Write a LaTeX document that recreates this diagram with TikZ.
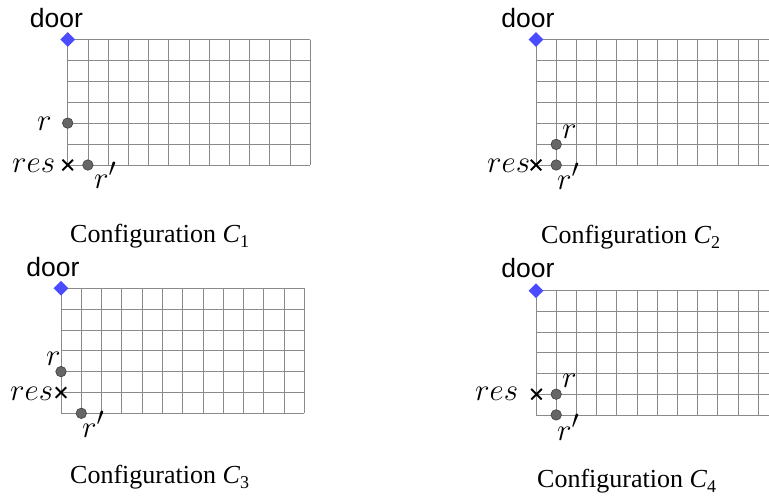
\documentclass[tikz,border=0pt]{standalone}
\usepackage{graphicx}
\usepackage{fontspec}
\newfontfamily\doorfont{Liberation Sans}
\newfontfamily\capfont{Liberation Serif}
\usetikzlibrary{shapes.geometric,shapes.misc}
\definecolor{gridgray}{HTML}{8A8A8A}
\definecolor{doorblue}{HTML}{4B4BFF}
\definecolor{robotfill}{HTML}{666666}
\tikzset{
  gridline/.style={draw=gridgray, line width=0.7pt},
  doormark/.style={diamond, fill=doorblue, inner sep=0pt, minimum width=15pt, minimum height=15pt},
  doorlabel/.style={anchor=base, inner sep=0pt, font=\doorfont\fontsize{26.5}{26.5}\selectfont},
  robot/.style={circle, fill=robotfill, draw=black!75, line width=0.6pt, inner sep=0pt, minimum size=10.5pt},
  resmark/.style={cross out, draw=black, line width=2pt, inner sep=0pt, minimum size=8.5pt},
  mlabel/.style={anchor=base west, inner sep=0pt},
  caption/.style={anchor=base west, inner sep=0pt, font=\capfont\fontsize{26}{26}\selectfont},
}
\newcommand{\ml}[1]{\scalebox{1.246}{\fontsize{24.88}{25}\selectfont$#1$}}
\newcommand{\gridpanel}[6]{% x0 y0 dx dy ncols xmax
  \foreach \i in {0,...,6} {\draw[gridline] (#1,{#2+\i*#4}) -- (#6,{#2+\i*#4});}
  \foreach \j in {0,...,#5} {\pgfmathsetmacro{\xx}{#1+\j*#3}\ifdim\xx pt<769.5pt \draw[gridline] (\xx,#2) -- (\xx,{#2+6*#4});\fi}
}
\newcommand{\capC}[1]{Configuration \textit{C}\raisebox{-0.22em}{\fontsize{18}{18}\selectfont #1}}
\begin{document}
\begin{tikzpicture}[x=1pt,y=-1pt]
\useasboundingbox (0,0) rectangle (769,501);
% ---------- Panel 1 ----------
\gridpanel{67.7}{39.5}{20.2}{20.9}{12}{310}
\node[doormark] (d1) at (67.7,39.5) {};
\node[doorlabel] (dl1) at (56.5,27) {door};
\node[robot] (r1) at (67.7,123.1) {};
\node[robot] (rp1) at (87.9,165) {};
\node[resmark] (x1) at (67.7,165) {};
\node[mlabel] (lr1) at (37,130) {\ml{r}};
\node[mlabel] (lres1) at (12,172) {\ml{res}};
\node[mlabel] (lrp1) at (94,188) {\ml{r'}};
\node[caption] (c1) at (70,242) {\capC{1}};
% ---------- Panel 2 ----------
\gridpanel{536}{39.5}{20.2}{20.9}{12}{769}
\node[doormark] (d2) at (536,39.5) {};
\node[doorlabel] (dl2) at (528,27) {door};
\node[robot] (r2) at (556.2,144.4) {};
\node[robot] (rp2) at (556.2,165) {};
\node[resmark] (x2) at (536,165) {};
\node[mlabel] (lr2) at (562,138) {\ml{r}};
\node[mlabel] (lres2) at (487,172) {\ml{res}};
\node[mlabel] (lrp2) at (557,189) {\ml{r'}};
\node[caption] (c2) at (541,243) {\capC{2}};
% ---------- Panel 3 ----------
\gridpanel{61}{288.3}{20.28}{20.83}{12}{304.4}
\node[doormark] (d3) at (61,288.3) {};
\node[doorlabel] (dl3) at (53,276) {door};
\node[robot] (r3) at (61,371.6) {};
\node[robot] (rp3) at (81.3,413.3) {};
\node[resmark] (x3) at (61,392.5) {};
\node[mlabel] (lr3) at (46,365) {\ml{r}};
\node[mlabel] (lres3) at (10,400) {\ml{res}};
\node[mlabel] (lrp3) at (82,437) {\ml{r'}};
\node[caption] (c3) at (70,483) {\capC{3}};
% ---------- Panel 4 ----------
\gridpanel{536}{290.7}{20.2}{20.7}{12}{769}
\node[doormark] (d4) at (536,290.7) {};
\node[doorlabel] (dl4) at (528,277) {door};
\node[robot] (r4) at (556.2,394.2) {};
\node[robot] (rp4) at (556.2,414.9) {};
\node[resmark] (x4) at (536.5,394.2) {};
\node[mlabel] (lr4) at (562,387) {\ml{r}};
\node[mlabel] (lres4) at (475,400) {\ml{res}};
\node[mlabel] (lrp4) at (557,440) {\ml{r'}};
\node[caption] (c4) at (537,487) {\capC{4}};
\end{tikzpicture}
\end{document}
